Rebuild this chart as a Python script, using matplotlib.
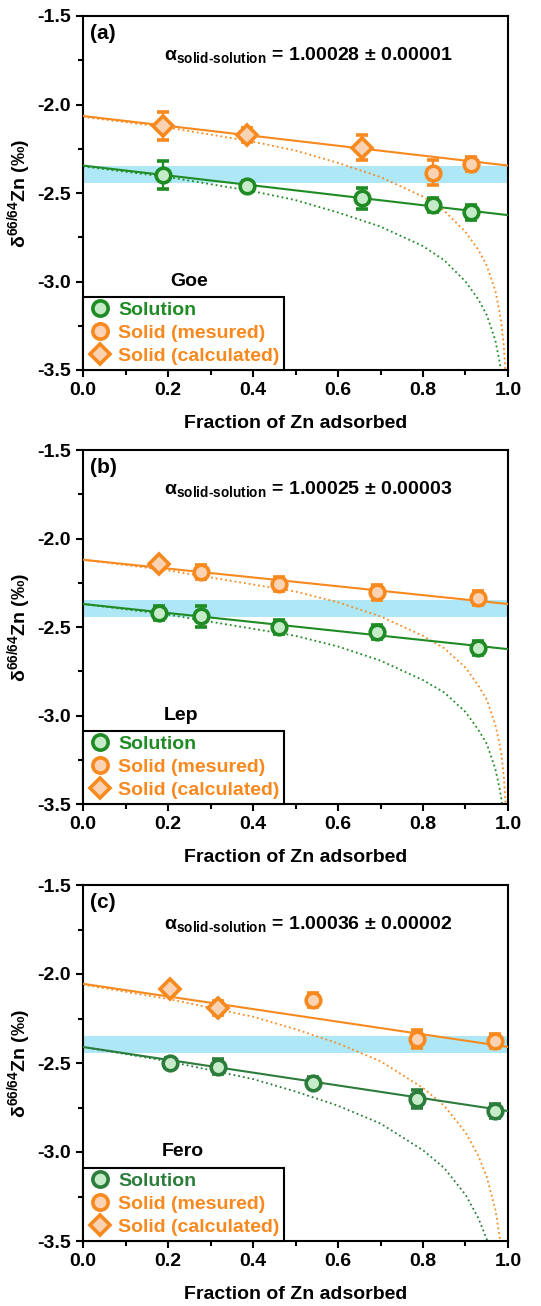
import matplotlib.pyplot as plt
from matplotlib.lines import Line2D
from matplotlib.ticker import MultipleLocator

plt.rcParams['font.family'] = ['Liberation Sans', 'DejaVu Sans']
plt.rcParams['font.weight'] = 'bold'
plt.rcParams['mathtext.fontset'] = 'custom'
plt.rcParams['mathtext.rm'] = 'Liberation Sans'
plt.rcParams['mathtext.bf'] = 'Liberation Sans:bold'
plt.rcParams['mathtext.it'] = 'Liberation Sans:italic'

# ---- data ----
fit_x = [0.0, 1.0]
ray_x = [0, 0.1, 0.2, 0.3, 0.4, 0.5, 0.6, 0.7, 0.8, 0.85, 0.9, 0.93, 0.95, 0.97, 0.98, 0.985, 0.99, 0.995]

# (a) Goethite
goe_sol_x = [0.188, 0.386, 0.656, 0.823, 0.914]
goe_sol_y = [-2.40, -2.46, -2.53, -2.57, -2.61]
goe_sol_err = [0.08, 0.03, 0.06, 0.04, 0.04]
goe_meas_x = [0.823, 0.914]
goe_meas_y = [-2.385, -2.335]
goe_meas_err = [0.07, 0.04]
goe_calc_x = [0.188, 0.386, 0.656]
goe_calc_y = [-2.12, -2.17, -2.245]
goe_calc_err = [0.08, 0.04, 0.07]
goe_fit_sol = [-2.345, -2.625]
goe_fit_solid = [-2.065, -2.345]
goe_ray_sol = [-2.35, -2.38, -2.41, -2.45, -2.49, -2.54, -2.61, -2.69, -2.80, -2.88,
               -3.00, -3.10, -3.19, -3.33, -3.45, -3.53, -3.64, -3.83]
goe_ray_solid = [-2.07, -2.10, -2.13, -2.17, -2.21, -2.26, -2.33, -2.41, -2.52, -2.60,
                 -2.72, -2.82, -2.91, -3.05, -3.17, -3.25, -3.36, -3.55]

# (b) Lepidocrocite
lep_sol_x = [0.179, 0.278, 0.462, 0.691, 0.929]
lep_sol_y = [-2.42, -2.44, -2.50, -2.53, -2.62]
lep_sol_err = [0.04, 0.06, 0.04, 0.04, 0.04]
lep_meas_x = [0.278, 0.462, 0.691, 0.929]
lep_meas_y = [-2.19, -2.255, -2.305, -2.335]
lep_meas_err = [0.04, 0.04, 0.04, 0.04]
lep_calc_x = [0.179]
lep_calc_y = [-2.145]
lep_calc_err = [0.03]
lep_fit_sol = [-2.37, -2.625]
lep_fit_solid = [-2.12, -2.37]
lep_ray_sol = [-2.37, -2.40, -2.43, -2.47, -2.51, -2.55, -2.61, -2.69, -2.80, -2.87,
               -2.98, -3.08, -3.16, -3.30, -3.41, -3.48, -3.59, -3.77]
lep_ray_solid = [-2.12, -2.15, -2.18, -2.22, -2.26, -2.30, -2.36, -2.44, -2.55, -2.62,
                 -2.73, -2.83, -2.91, -3.05, -3.16, -3.23, -3.34, -3.52]

# (c) Ferrihydrite
fero_sol_x = [0.205, 0.317, 0.542, 0.787, 0.969]
fero_sol_y = [-2.50, -2.52, -2.61, -2.70, -2.77]
fero_sol_err = [0.03, 0.04, 0.03, 0.05, 0.04]
fero_meas_x = [0.542, 0.787, 0.969]
fero_meas_y = [-2.145, -2.365, -2.375]
fero_meas_err = [0.04, 0.05, 0.04]
fero_calc_x = [0.205, 0.317]
fero_calc_y = [-2.085, -2.19]
fero_calc_err = [0.03, 0.04]
fero_fit_sol = [-2.41, -2.77]
fero_fit_solid = [-2.055, -2.41]
fero_ray_sol = [-2.41, -2.45, -2.49, -2.54, -2.59, -2.66, -2.74, -2.84, -2.99, -3.09,
                -3.24, -3.37, -3.49, -3.67, -3.82, -3.92, -4.07, -4.32]
fero_ray_solid = [-2.06, -2.10, -2.14, -2.19, -2.24, -2.31, -2.39, -2.49, -2.64, -2.74,
                  -2.89, -3.02, -3.14, -3.32, -3.47, -3.57, -3.72, -3.97]

band = (-2.445, -2.35)  # initial solution range

# ---- style ----
orange = '#F7891F'
orange_fill = '#FAD3B4'
green_fill = '#C6EBC9'
blue = '#AEE7F6'
legend_labels = ['Solution', 'Solid (mesured)', 'Solid (calculated)']

fig = plt.figure(figsize=(5.41, 13.06), dpi=100)
W, H = 541, 1306


def panel(rect, tag, alpha_txt, mineral, mineral_x, green,
          sol_x, sol_y, sol_err, meas_x, meas_y, meas_err,
          calc_x, calc_y, calc_err, fit_sol, fit_solid, ray_sol, ray_solid):
    l, t, r, b = rect
    ax = fig.add_axes([l / W, (H - b) / H, (r - l) / W, (b - t) / H])
    ax.axhspan(band[0], band[1], color=blue, lw=0, zorder=1)

    # Rayleigh curves (dotted) and linear fits (solid)
    ax.plot(ray_x, ray_sol, ls=':', color=green, lw=1.3, zorder=2)
    ax.plot(ray_x, ray_solid, ls=':', color=orange, lw=1.3, zorder=2)
    ax.plot(fit_x, fit_sol, color=green, lw=1.5, zorder=3)
    ax.plot(fit_x, fit_solid, color=orange, lw=1.5, zorder=3)

    kw = dict(ls='none', ms=10.5, mew=2.6, capsize=4, elinewidth=1.6, capthick=1.8, zorder=4)
    ax.errorbar(sol_x, sol_y, yerr=sol_err, marker='o', color=green, mfc=green_fill, **kw)
    ax.errorbar(meas_x, meas_y, yerr=meas_err, marker='o', color=orange, mfc=orange_fill, **kw)
    ax.errorbar(calc_x, calc_y, yerr=calc_err, marker='D', color=orange, mfc=orange_fill,
                **{**kw, 'ms': 10})

    ax.set_xlim(0, 1)
    ax.set_ylim(-3.5, -1.5)
    ax.xaxis.set_major_locator(MultipleLocator(0.2))
    ax.xaxis.set_minor_locator(MultipleLocator(0.1))
    ax.yaxis.set_major_locator(MultipleLocator(0.5))
    ax.yaxis.set_minor_locator(MultipleLocator(0.25))
    ax.yaxis.set_major_formatter(plt.FormatStrFormatter('%.1f'))
    ax.xaxis.set_major_formatter(plt.FormatStrFormatter('%.1f'))
    ax.tick_params(which='both', direction='out', width=1.5, labelsize=14, top=False, right=False)
    ax.tick_params(which='major', length=5)
    ax.tick_params(which='minor', length=3.5)
    for s in ax.spines.values():
        s.set_linewidth(1.5)

    ax.set_xlabel('Fraction of Zn adsorbed', fontsize=14, fontweight='bold', labelpad=12)
    ax.set_ylabel('δ' + r'$^{\mathbf{66/64}}$' + 'Zn (‰)', fontsize=14, fontweight='bold', labelpad=3)

    ax.text(0.017, 0.978, tag, transform=ax.transAxes, ha='left', va='top',
            fontsize=15, fontweight='bold')
    ax.text(0.53, -1.72, 'α' + r'$_{\mathbf{solid}\text{-}\mathbf{solution}}$' + ' = ' + alpha_txt,
            ha='center', va='center', fontsize=14, fontweight='bold')
    ax.text(mineral_x, -3.0, mineral, ha='center', va='center', fontsize=14, fontweight='bold')

    handles = [
        Line2D([], [], ls='none', marker='o', ms=11, mew=2.6, color=green, mfc=green_fill),
        Line2D([], [], ls='none', marker='o', ms=11, mew=2.6, color=orange, mfc=orange_fill),
        Line2D([], [], ls='none', marker='D', ms=10.5, mew=2.6, color=orange, mfc=orange_fill),
    ]
    leg = ax.legend(handles, legend_labels,
                    loc='lower left', bbox_to_anchor=(0, 0), borderaxespad=0,
                    fancybox=False, framealpha=1, edgecolor='black',
                    prop={'size': 14, 'weight': 'bold'}, handletextpad=0.35,
                    handlelength=1.2, labelspacing=0.28, borderpad=0.25)
    leg.get_frame().set_linewidth(1.5)
    for txt, c in zip(leg.get_texts(), [green, orange, orange]):
        txt.set_color(c)
    return ax


panel((83, 16, 508, 370), '(a)', '1.00028 ± 0.00001', 'Goe', 0.25, '#1F8B24',
      goe_sol_x, goe_sol_y, goe_sol_err, goe_meas_x, goe_meas_y, goe_meas_err,
      goe_calc_x, goe_calc_y, goe_calc_err, goe_fit_sol, goe_fit_solid,
      goe_ray_sol, goe_ray_solid)

panel((83, 450, 508, 804), '(b)', '1.00025 ± 0.00003', 'Lep', 0.23, '#1F8B24',
      lep_sol_x, lep_sol_y, lep_sol_err, lep_meas_x, lep_meas_y, lep_meas_err,
      lep_calc_x, lep_calc_y, lep_calc_err, lep_fit_sol, lep_fit_solid,
      lep_ray_sol, lep_ray_solid)

panel((83, 885, 508, 1241), '(c)', '1.00036 ± 0.00002', 'Fero', 0.235, '#2C7C3C',
      fero_sol_x, fero_sol_y, fero_sol_err, fero_meas_x, fero_meas_y, fero_meas_err,
      fero_calc_x, fero_calc_y, fero_calc_err, fero_fit_sol, fero_fit_solid,
      fero_ray_sol, fero_ray_solid)

fig.savefig('out.png', dpi=100)
